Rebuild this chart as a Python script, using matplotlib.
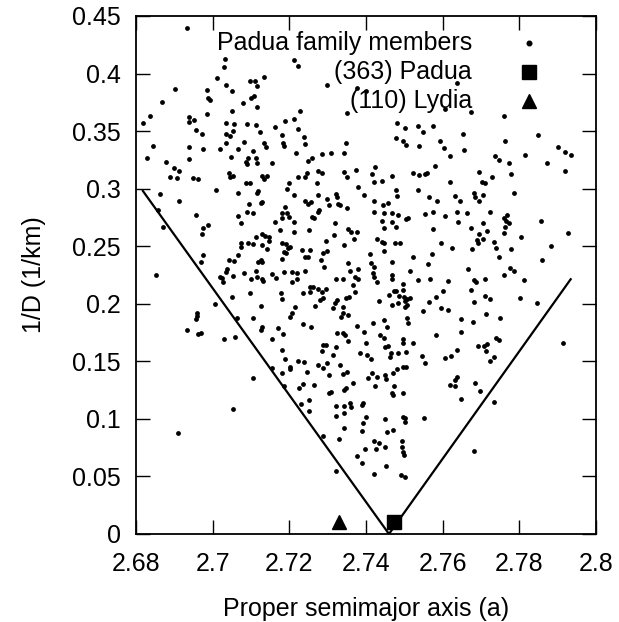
import numpy as np
import matplotlib.pyplot as plt

plt.rcParams['font.family'] = ['Liberation Sans', 'DejaVu Sans']

# Padua family members: (proper semimajor axis, 1/D)
members = [
    # upper left
    (2.6934, .4394), (2.7031, .4124), (2.7030, .4061), (2.7012, .3959), (2.7035, .3901),
    (2.7051, .3849), (2.6902, .3867), (2.6984, .3858), (2.6869, .3757), (2.6988, .3791),
    (2.6993, .3771), (2.7079, .3748), (2.7051, .3673), (2.6984, .3652), (2.6837, .3635),
    (2.6818, .3571), (2.6939, .3620), (2.6939, .3580), (2.6951, .3597), (2.6957, .3510),
    (2.6971, .3476), (2.7034, .3568), (2.7055, .3563), (2.7053, .3499), (2.7034, .3479),
    (2.7044, .3458), (2.6844, .3374), (2.6937, .3360), (2.6830, .3267), (2.6976, .3342),
    (2.7018, .3342), (2.7035, .3395), (2.7049, .3279), (2.7066, .3342), (2.7082, .3403),
    (2.6877, .3235), (2.6937, .3258), (2.6900, .3183), (2.6911, .3154), (2.6890, .3105),
    (2.6907, .3091), (2.6950, .3091), (2.6963, .3082), (2.7042, .3134), (2.7044, .3105),
    (2.7054, .3114),
    # upper middle
    (2.7212, .4119), (2.7223, .4066), (2.7299, .3901), (2.7376, .3872), (2.7400, .3849),
    (2.7351, .3655), (2.7097, .3939), (2.7110, .3939), (2.7134, .3968), (2.7115, .3893),
    (2.7101, .3786), (2.7108, .3806), (2.7115, .3707), (2.7228, .3678), (2.7212, .3609),
    (2.7190, .3589), (2.7162, .3539), (2.7090, .3563), (2.7113, .3554), (2.7223, .3516),
    (2.7123, .3496), (2.7182, .3467), (2.7239, .3447), (2.7184, .3400), (2.7186, .3371),
    (2.7242, .3389), (2.7134, .3395), (2.7139, .3360), (2.7104, .3331), (2.7349, .3395),
    (2.7217, .3308), (2.7284, .3302), (2.7310, .3314), (2.7342, .3308), (2.7093, .3264),
    (2.7088, .3235), (2.7090, .3215), (2.7113, .3264), (2.7115, .3221), (2.7156, .3221),
    (2.7258, .3270), (2.7249, .3244), (2.7480, .3568), (2.7502, .3525), (2.7478, .3438),
    (2.7496, .3418), (2.7504, .3380), (2.7423, .3186), (2.7415, .3128), (2.7374, .3163),
    (2.7342, .3148), (2.7351, .3105), (2.7275, .3157), (2.7284, .3134), (2.7245, .3134),
    (2.7241, .3105), (2.7223, .3099), (2.7200, .3047), (2.7130, .3111), (2.7142, .3111),
    (2.7134, .3082), (2.7271, .3053), (2.7421, .3062), (2.7443, .3070), (2.7469, .3111),
    (2.7522, .3140), (2.7088, .3047), (2.7097, .3047),
    # upper right
    (2.7637, .3916), (2.7606, .3690), (2.7673, .3667), (2.7760, .3632), (2.7537, .3545),
    (2.7548, .3496), (2.7576, .3545), (2.7654, .3476), (2.7763, .3415), (2.7848, .3467),
    (2.7539, .3371), (2.7592, .3415), (2.7604, .3351), (2.7618, .3285), (2.7656, .3337),
    (2.7737, .3285), (2.7748, .3250), (2.7772, .3227), (2.7815, .3293), (2.7873, .3221),
    (2.7900, .3360), (2.7920, .3322), (2.7935, .3293), (2.7539, .3122), (2.7554, .3128),
    (2.7560, .3134), (2.7579, .3198), (2.7618, .3062), (2.7696, .3143), (2.7702, .3062),
    (2.7711, .3047), (2.7728, .3105), (2.7779, .3125), (2.7920, .3154),
    # middle left
    (2.6863, .2951), (2.6912, .2894), (2.7008, .2989), (2.7065, .2960), (2.6957, .2772),
    (2.6987, .2685), (2.6974, .2656), (2.6971, .2604), (2.6858, .2815), (2.6871, .2665),
    (2.7065, .2763), (2.7073, .2700), (2.7073, .2526), (2.7073, .2497), (2.6974, .2424),
    (2.6969, .2366), (2.6852, .2251), (2.7018, .2236), (2.7025, .2222), (2.7028, .2193),
    (2.7034, .2280), (2.7037, .2300), (2.7043, .2381), (2.7056, .2372), (2.7065, .2424),
    (2.7054, .2242), (2.7082, .2271), (2.7050, .2057), (2.7006, .1999), (2.6958, .1923),
    (2.6960, .1894), (2.6957, .1866), (2.6932, .1773), (2.6963, .1738), (2.6970, .1750),
    (2.7029, .1692), (2.7057, .1715), (2.7064, .1874),
    # centre
    (2.7380, .3012), (2.7119, .2983), (2.7116, .2966), (2.7193, .2995), (2.7212, .2946),
    (2.7274, .2946), (2.7323, .2954), (2.7325, .2925), (2.7395, .2946), (2.7478, .2989),
    (2.7480, .2937), (2.7095, .2868), (2.7125, .2879), (2.7130, .2888), (2.7090, .2801),
    (2.7104, .2786), (2.7188, .2844), (2.7182, .2786), (2.7193, .2792), (2.7241, .2896),
    (2.7256, .2888), (2.7249, .2868), (2.7299, .2908), (2.7304, .2859), (2.7328, .2868),
    (2.7332, .2859), (2.7351, .2830), (2.7421, .2896), (2.7421, .2801), (2.7445, .2859),
    (2.7458, .2873), (2.7448, .2786), (2.7469, .2792), (2.7484, .2772), (2.7504, .2734),
    (2.7510, .2743), (2.7443, .2720), (2.7469, .2714), (2.7478, .2665), (2.7448, .2656),
    (2.7162, .2714), (2.7180, .2743), (2.7200, .2752), (2.7212, .2714), (2.7175, .2642),
    (2.7212, .2621), (2.7258, .2757), (2.7264, .2743), (2.7275, .2801), (2.7278, .2815),
    (2.7319, .2705), (2.7252, .2642), (2.7354, .2647), (2.7360, .2627), (2.7376, .2627),
    (2.7316, .2598), (2.7295, .2549), (2.7369, .2561), (2.7342, .2511), (2.7428, .2561),
    (2.7443, .2540), (2.7447, .2526), (2.7476, .2526), (2.7489, .2532), (2.7093, .2526),
    (2.7104, .2520), (2.7113, .2584), (2.7128, .2607), (2.7136, .2592), (2.7148, .2578),
    (2.7148, .2549), (2.7128, .2511), (2.7142, .2477), (2.7180, .2526), (2.7191, .2520),
    (2.7202, .2491), (2.7197, .2482), (2.7186, .2453), (2.7191, .2445), (2.7232, .2468),
    (2.7255, .2468), (2.7287, .2445), (2.7299, .2462), (2.7282, .2381), (2.7241, .2404),
    (2.7249, .2404), (2.7180, .2387), (2.7410, .2433), (2.7447, .2459), (2.7523, .2404),
    (2.7469, .2366), (2.7119, .2366), (2.7125, .2381), (2.7130, .2366), (2.7113, .2288),
    (2.7099, .2213), (2.7115, .2236), (2.7128, .2213), (2.7132, .2199), (2.7154, .2259),
    (2.7165, .2222), (2.7186, .2280), (2.7208, .2280), (2.7221, .2271), (2.7221, .2213),
    (2.7206, .2193), (2.7242, .2288), (2.7290, .2317), (2.7322, .2213), (2.7339, .2213),
    (2.7354, .2352), (2.7358, .2288), (2.7371, .2230), (2.7378, .2300), (2.7380, .2213),
    (2.7367, .2164), (2.7412, .2352), (2.7421, .2317), (2.7419, .2271), (2.7421, .2236),
    (2.7429, .2193), (2.7467, .2251), (2.7469, .2213), (2.7515, .2288), (2.7435, .2028),
    (2.7097, .2091), (2.7177, .2097), (2.7180, .2045), (2.7236, .2097), (2.7255, .2143),
    (2.7262, .2149), (2.7254, .2106), (2.7275, .2129), (2.7284, .2106), (2.7295, .2129),
    (2.7280, .2033), (2.7289, .2048), (2.7267, .1981), (2.7215, .1976), (2.7206, .1918),
    (2.7203, .1889), (2.7126, .1981), (2.7104, .1880), (2.7319, .2004), (2.7315, .1961),
    (2.7325, .2033), (2.7341, .1970), (2.7348, .2048), (2.7355, .2057), (2.7371, .2106),
    (2.7354, .1903), (2.7341, .1918), (2.7336, .1889), (2.7461, .2077), (2.7473, .2115),
    (2.7478, .2115), (2.7497, .2120), (2.7496, .2172), (2.7487, .2068), (2.7499, .2057),
    (2.7506, .2042), (2.7515, .2048), (2.7502, .2028), (2.7508, .1990), (2.7502, .1976),
    (2.7469, .1990), (2.7484, .2004), (2.7235, .1822), (2.7256, .1802), (2.7130, .1802),
    (2.7125, .1773), (2.7171, .1787), (2.7184, .1738), (2.7156, .1692), (2.7180, .1599),
    (2.7287, .1643), (2.7295, .1643), (2.7284, .1590), (2.7323, .1622), (2.7325, .1750),
    (2.7341, .1744), (2.7345, .1729), (2.7354, .1677), (2.7377, .1810), (2.7395, .1758),
    (2.7400, .1663), (2.7417, .1837), (2.7436, .1729), (2.7447, .1860), (2.7454, .1802),
    (2.7447, .1700), (2.7449, .1628), (2.7458, .1634), (2.7506, .1874), (2.7510, .1837),
    (2.7496, .1692), (2.7497, .1657), (2.7523, .1663), (2.7464, .1570), (2.7484, .1570),
    (2.7384, .1576), (2.7504, .1584),
    # middle right
    (2.7537, .2989), (2.7565, .2925), (2.7585, .2896), (2.7632, .2937), (2.7646, .2896),
    (2.7682, .2960), (2.7705, .2946), (2.7685, .2925), (2.7696, .2896), (2.7787, .2960),
    (2.7554, .2778), (2.7576, .2801), (2.7606, .2766), (2.7637, .2795), (2.7663, .2786),
    (2.7724, .2801), (2.7705, .2700), (2.7641, .2708), (2.7759, .2743), (2.7769, .2772),
    (2.7766, .2720), (2.7774, .2705), (2.7857, .2720), (2.7928, .2618), (2.7576, .2647),
    (2.7673, .2656), (2.7696, .2604), (2.7715, .2636), (2.7763, .2665), (2.7760, .2618),
    (2.7804, .2584), (2.7882, .2506), (2.7596, .2526), (2.7624, .2488), (2.7676, .2474),
    (2.7689, .2555), (2.7693, .2532), (2.7705, .2561), (2.7733, .2540), (2.7739, .2482),
    (2.7779, .2474), (2.7573, .2433), (2.7748, .2404), (2.7860, .2381), (2.7563, .2343),
    (2.7666, .2303), (2.7776, .2309), (2.7785, .2288), (2.7760, .2251), (2.7811, .2207),
    (2.7537, .2207), (2.7567, .2213), (2.7615, .2201), (2.7682, .2207), (2.7687, .2193),
    (2.7711, .2213), (2.7602, .2112), (2.7673, .2120), (2.7682, .2019), (2.7711, .2068),
    (2.7724, .2039), (2.7802, .2048), (2.7846, .2010), (2.7582, .2057), (2.7565, .2013),
    (2.7548, .1938), (2.7596, .1961), (2.7615, .1947), (2.7648, .1871), (2.7680, .1842),
    (2.7713, .1909), (2.7750, .1880), (2.7582, .1732), (2.7648, .1758), (2.7693, .1634),
    (2.7708, .1637), (2.7717, .1651), (2.7713, .1593), (2.7739, .1706), (2.7746, .1686),
    (2.7913, .1657), (2.7637, .1599),
    # lower left
    (2.6909, .0881), (2.7054, .1084),
    # lower middle
    (2.7106, .1353), (2.7156, .1440), (2.7188, .1518), (2.7202, .1454), (2.7203, .1434),
    (2.7182, .1396), (2.7223, .1506), (2.7239, .1498), (2.7245, .1411), (2.7275, .1469),
    (2.7287, .1440), (2.7299, .1489), (2.7332, .1469), (2.7351, .1411), (2.7339, .1390),
    (2.7304, .1382), (2.7315, .1556), (2.7402, .1556), (2.7412, .1518), (2.7463, .1541),
    (2.7186, .1286), (2.7226, .1266), (2.7236, .1304), (2.7251, .1165), (2.7264, .1295),
    (2.7230, .1130), (2.7251, .1069), (2.7304, .1228), (2.7310, .1237), (2.7342, .1252),
    (2.7348, .1266), (2.7367, .1315), (2.7322, .1112), (2.7342, .1112), (2.7358, .1136),
    (2.7360, .1101), (2.7343, .1055), (2.7322, .1026), (2.7389, .1121), (2.7393, .1136),
    (2.7404, .1353), (2.7415, .1396), (2.7428, .1361), (2.7449, .1382), (2.7451, .1344),
    (2.7471, .1396), (2.7480, .1431), (2.7496, .1448), (2.7504, .1454), (2.7423, .1286),
    (2.7473, .1286), (2.7469, .1228), (2.7471, .1208), (2.7496, .1228), (2.7287, .0852),
    (2.7329, .0823), (2.7342, .0924), (2.7390, .0898), (2.7393, .0968), (2.7400, .1020),
    (2.7449, .0999), (2.7456, .0889), (2.7471, .0904), (2.7496, .1020), (2.7502, .1005),
    (2.7502, .0976), (2.7421, .0811), (2.7435, .0788), (2.7426, .0739), (2.7449, .0753),
    (2.7493, .0811), (2.7493, .0759), (2.7496, .0716), (2.7499, .0687), (2.7376, .0678),
    (2.7397, .0736), (2.7390, .0620), (2.7451, .0594), (2.7421, .0519), (2.7492, .0513),
    (2.7501, .0499), (2.7321, .0548),
    # lower right
    (2.7545, .1547), (2.7554, .1489), (2.7606, .1527), (2.7621, .1547), (2.7724, .1506),
    (2.7735, .1535), (2.7632, .1338), (2.7637, .1367), (2.7618, .1298), (2.7632, .1286),
    (2.7685, .1315), (2.7698, .1240), (2.7648, .1176), (2.7733, .1147), (2.7552, .1008),
    (2.7682, .0724),
]

padua = (2.7473, 0.0104)
lydia = (2.7329, 0.0104)

# V-shaped envelope
v_a = [2.6818, 2.746, 2.7934]
v_invd = [0.298, 0.0, 0.2213]

x_ticks = [2.68, 2.70, 2.72, 2.74, 2.76, 2.78, 2.80]
x_labels = ['2.68', '2.7', '2.72', '2.74', '2.76', '2.78', '2.8']
y_ticks = [0, 0.05, 0.1, 0.15, 0.2, 0.25, 0.3, 0.35, 0.4, 0.45]
y_labels = ['0', '0.05', '0.1', '0.15', '0.2', '0.25', '0.3', '0.35', '0.4', '0.45']

legend_labels = ['Padua family members', '(363) Padua', '(110) Lydia']

fs = 18


def main():
    a, invd = np.array(members).T

    fig = plt.figure(figsize=(6.19, 6.22), dpi=100)
    ax = fig.add_axes([0.2197, 0.1415, 0.7431, 0.8328])

    ax.plot(v_a, v_invd, color='black', lw=1.6, zorder=2)
    ax.scatter(a, invd, s=12, c='black', linewidths=0, zorder=3)
    ax.plot(*padua, marker='s', ms=10, color='black', ls='none', zorder=4)
    ax.plot(*lydia, marker='^', ms=10, color='black', ls='none', zorder=4)

    ax.set_xlim(2.68, 2.80)
    ax.set_ylim(0, 0.45)
    ax.set_xticks(x_ticks, x_labels)
    ax.set_yticks(y_ticks, y_labels)
    ax.tick_params(direction='in', length=10, width=1, top=True, right=True,
                   labelsize=fs)
    ax.tick_params(axis='x', pad=13)
    ax.tick_params(axis='y', pad=11)
    for sp in ax.spines.values():
        sp.set_linewidth(1.3)

    ax.set_xlabel('Proper semimajor axis (a)', fontsize=fs, labelpad=15)
    ax.set_ylabel('1/D (1/km)', fontsize=fs, labelpad=19)

    # key, gnuplot style: right-aligned text, symbol on the right
    rows = [0.948, 0.892, 0.836]
    styles = [dict(marker='o', ms=3.3), dict(marker='s', ms=10), dict(marker='^', ms=10)]
    for lab, yy, st in zip(legend_labels, rows, styles):
        ax.text(0.731, yy, lab, transform=ax.transAxes, ha='right', va='center',
                fontsize=fs, zorder=1)
        ax.plot(0.855, yy, transform=ax.transAxes, color='black', ls='none',
                clip_on=False, **st)

    fig.savefig('out.png', dpi=100)


if __name__ == "__main__":
    main()
